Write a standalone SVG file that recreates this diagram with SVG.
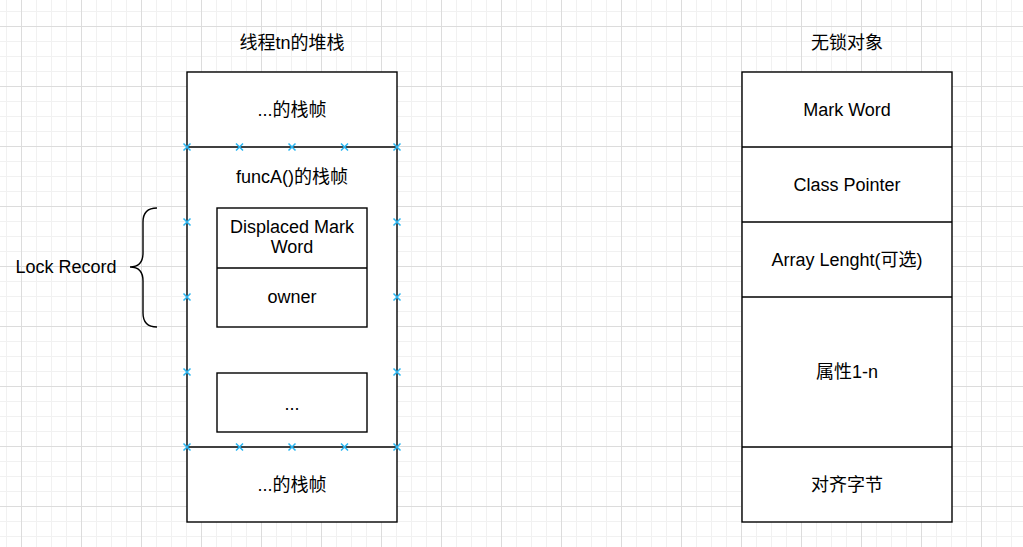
<svg xmlns="http://www.w3.org/2000/svg" width="1023" height="547" viewBox="0 0 1023 547">
  <defs>
    <pattern id="grid" patternUnits="userSpaceOnUse" x="21" y="26" width="60" height="60">
      <path d="M15.5 0V60M30.5 0V60M45.5 0V60M0 15.5H60M0 30.5H60M0 45.5H60" stroke="#f1f1f1" stroke-width="1" fill="none"/>
      <path d="M0.5 0V60M0 0.5H60" stroke="#dcdcdc" stroke-width="1" fill="none"/>
    </pattern>
    <path id="pt" d="M-3.5 -3.5L3.5 3.5M-3.5 3.5L3.5 -3.5" stroke="#29b6f2" stroke-width="1.5" fill="none"/>
  </defs>
  <style>
    .box { fill: #fff; stroke: #000; stroke-width: 1.4; }
    .ln { stroke: #000; stroke-width: 1.4; fill: none; }
    text { font-family: "Liberation Sans", "Noto Sans CJK SC", sans-serif; font-size: 18px; fill: #000; text-anchor: middle; dominant-baseline: central; }
  </style>

  <rect width="1023" height="547" fill="#fff"/>
  <rect width="1023" height="547" fill="url(#grid)"/>

  <!-- thread stack -->
  <g id="stack-title"><text x="292" y="43">线程tn的堆栈</text></g>
  <g id="stack">
    <rect class="box" x="187" y="72" width="210" height="450"/>
    <line class="ln" x1="187" y1="147" x2="397" y2="147"/>
    <line class="ln" x1="187" y1="447" x2="397" y2="447"/>
  </g>
  <g id="frame-top"><text x="292" y="110">...的栈帧</text></g>
  <g id="frame-funcA"><text x="292" y="177">funcA()的栈帧</text></g>
  <g id="lock-record">
    <rect class="box" x="217" y="208" width="150" height="119"/>
    <line class="ln" x1="217" y1="268" x2="367" y2="268"/>
    <text x="292" y="227">Displaced Mark</text>
    <text x="292" y="247">Word</text>
    <text x="292" y="297">owner</text>
  </g>
  <g id="frame-more">
    <rect class="box" x="217" y="373" width="150" height="59"/>
    <text x="292" y="404">...</text>
  </g>
  <g id="frame-bottom"><text x="292" y="485">...的栈帧</text></g>

  <!-- connection points -->
  <g id="points">
    <use href="#pt" x="187" y="147"/><use href="#pt" x="239.5" y="147"/><use href="#pt" x="292" y="147"/><use href="#pt" x="344.5" y="147"/><use href="#pt" x="397" y="147"/>
    <use href="#pt" x="187" y="447"/><use href="#pt" x="239.5" y="447"/><use href="#pt" x="292" y="447"/><use href="#pt" x="344.5" y="447"/><use href="#pt" x="397" y="447"/>
    <use href="#pt" x="187" y="222"/><use href="#pt" x="187" y="297"/><use href="#pt" x="187" y="372"/>
    <use href="#pt" x="397" y="222"/><use href="#pt" x="397" y="297"/><use href="#pt" x="397" y="372"/>
  </g>

  <!-- brace -->
  <g id="brace">
    <path class="ln" d="M157 208Q143 208 143 222V253Q143 267 130 267Q143 267 143 281V313Q143 327 157 327"/>
    <text x="66" y="267">Lock Record</text>
  </g>

  <!-- lock-free object -->
  <g id="object-title"><text x="847" y="43">无锁对象</text></g>
  <g id="object">
    <rect class="box" x="742" y="72" width="210" height="450"/>
    <line class="ln" x1="742" y1="147" x2="952" y2="147"/>
    <line class="ln" x1="742" y1="222" x2="952" y2="222"/>
    <line class="ln" x1="742" y1="297" x2="952" y2="297"/>
    <line class="ln" x1="742" y1="447" x2="952" y2="447"/>
  </g>
  <g id="mark-word"><text x="847" y="110">Mark Word</text></g>
  <g id="class-pointer"><text x="847" y="185">Class Pointer</text></g>
  <g id="array-length"><text x="847" y="260">Array Lenght(可选)</text></g>
  <g id="fields"><text x="847" y="372">属性1-n</text></g>
  <g id="padding"><text x="847" y="485">对齐字节</text></g>
</svg>
